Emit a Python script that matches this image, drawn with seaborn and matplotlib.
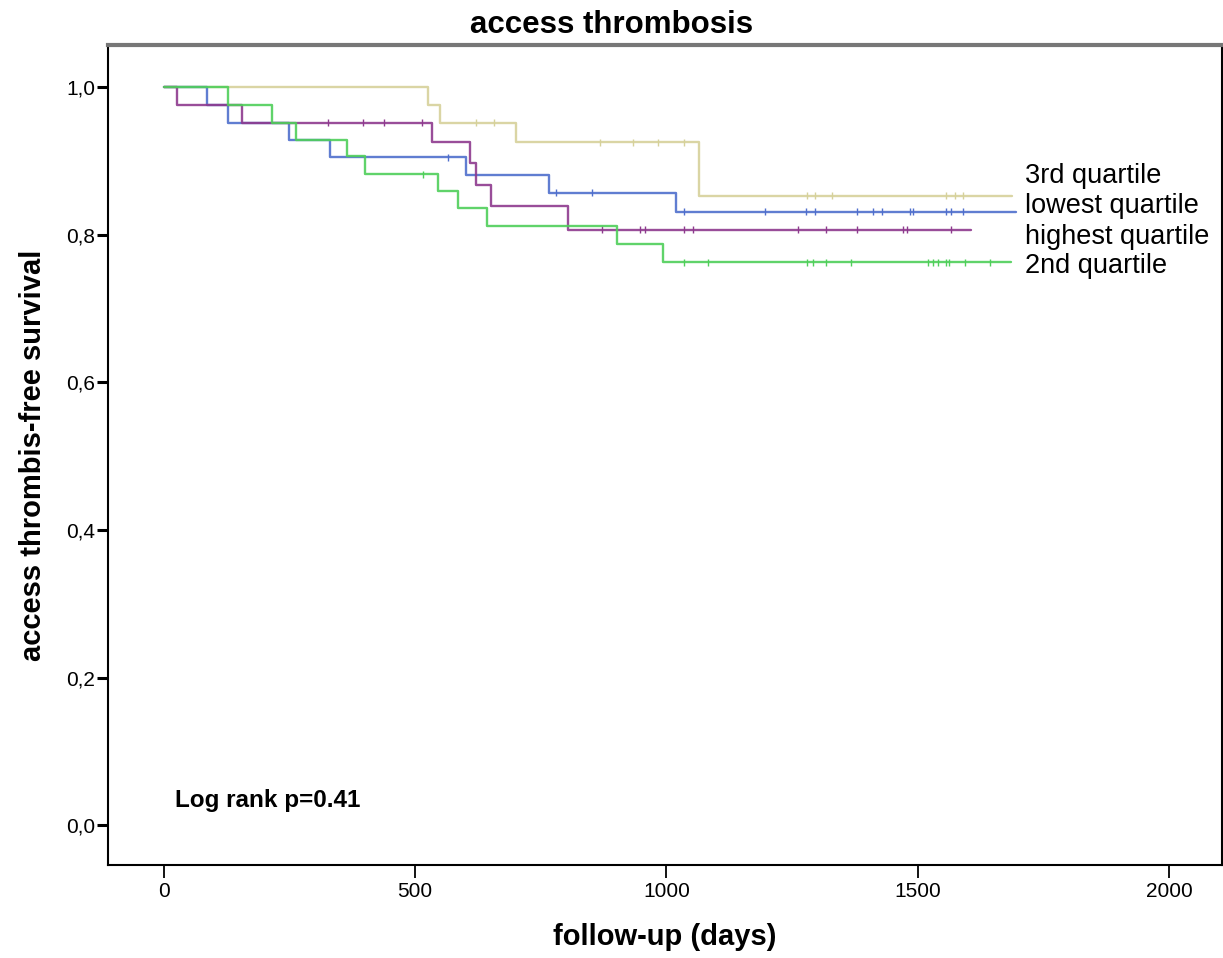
import numpy as np
import pandas as pd
import matplotlib
matplotlib.use("Agg")
import matplotlib.pyplot as plt
import seaborn as sns

# Kaplan-Meier steps (days, survival after each step)
groups = ["3rd quartile", "lowest quartile", "highest quartile", "2nd quartile"]

t_3rd = [0, 525, 549, 700, 1065, 1688]
s_3rd = [1.0, 0.976, 0.952, 0.925, 0.853, 0.853]
c_3rd = [621, 657, 868, 934, 983, 1035, 1279, 1296, 1329, 1557, 1574, 1591]

t_low = [0, 86, 127, 249, 330, 601, 766, 1019, 1695]
s_low = [1.0, 0.976, 0.952, 0.929, 0.905, 0.881, 0.857, 0.831, 0.831]
c_low = [565, 780, 851, 1035, 1197, 1278, 1296, 1380, 1412, 1428, 1485, 1491, 1557, 1567, 1591]

t_high = [0, 27, 156, 534, 609, 621, 652, 805, 1607]
s_high = [1.0, 0.976, 0.952, 0.926, 0.897, 0.868, 0.839, 0.807, 0.807]
c_high = [326, 397, 438, 513, 872, 947, 957, 1035, 1053, 1261, 1317, 1380, 1471, 1478, 1567]

t_2nd = [0, 127, 216, 263, 365, 401, 545, 586, 643, 901, 994, 1685]
s_2nd = [1.0, 0.976, 0.952, 0.929, 0.906, 0.882, 0.859, 0.836, 0.812, 0.787, 0.763, 0.763]
c_2nd = [516, 1035, 1083, 1280, 1292, 1317, 1368, 1521, 1531, 1541, 1557, 1563, 1595, 1644]

label_y = [0.880, 0.839, 0.797, 0.757]
p_text = "Log rank p=0.41"

colors = {
    "3rd quartile": "#d6d19a",
    "lowest quartile": "#4f6fcc",
    "highest quartile": "#8e3a8e",
    "2nd quartile": "#4fcf5a",
}

steps = pd.concat([
    pd.DataFrame({"days": t, "surv": s, "group": g})
    for g, t, s in zip(groups, [t_3rd, t_low, t_high, t_2nd], [s_3rd, s_low, s_high, s_2nd])
])


def surv_at(t, s, times):
    idx = np.searchsorted(np.asarray(t), np.asarray(times), side="right") - 1
    return np.asarray(s)[idx]


cens = pd.concat([
    pd.DataFrame({"days": c, "surv": surv_at(t, s, c), "group": g})
    for g, t, s, c in zip(groups, [t_3rd, t_low, t_high, t_2nd],
                          [s_3rd, s_low, s_high, s_2nd],
                          [c_3rd, c_low, c_high, c_2nd])
])

sns.set_style("white")
plt.rcParams["font.family"] = ["Liberation Sans", "DejaVu Sans"]
plt.rcParams["text.color"] = "black"
plt.rcParams["axes.labelcolor"] = "black"
plt.rcParams["xtick.color"] = "black"
plt.rcParams["ytick.color"] = "black"

fig = plt.figure(figsize=(12.23, 9.58), dpi=100)
ax = fig.add_axes([0.0883, 0.097, 0.9107, 0.856])

for g in groups:
    sns.lineplot(
        data=steps[steps["group"] == g], x="days", y="surv",
        color=colors[g], drawstyle="steps-post", estimator=None, sort=False,
        linewidth=1.7, alpha=0.9, ax=ax, legend=False,
    )
sns.scatterplot(
    data=cens, x="days", y="surv", hue="group", palette=colors,
    marker="|", s=25, linewidth=1.0, ax=ax, legend=False,
)

for g, y in zip(groups, label_y):
    ax.text(1713, y, g, fontsize=19.5, va="center", ha="left")

ax.text(22, 0.034, p_text, fontsize=17.5, fontweight="bold", va="center", ha="left")

ax.set_xlim(-111, 2105)
ax.set_ylim(-0.054, 1.057)
ax.set_xticks([0, 500, 1000, 1500, 2000])
ax.set_yticks([0.0, 0.2, 0.4, 0.6, 0.8, 1.0])
ax.set_yticklabels(["0,0", "0,2", "0,4", "0,6", "0,8", "1,0"])
ax.tick_params(axis="x", direction="out", length=9, width=1.3, labelsize=15, pad=3)
ax.tick_params(axis="y", direction="out", length=8, width=2.2, labelsize=15, pad=1)
ax.xaxis.set_ticks_position("bottom")
ax.yaxis.set_ticks_position("left")

for side, sp in ax.spines.items():
    sp.set_visible(True)
    sp.set_color("black")
    sp.set_linewidth(1.5)
ax.spines["top"].set_color("#777777")
ax.spines["top"].set_linewidth(3)

ax.set_xlabel("follow-up (days)", fontsize=21, fontweight="bold", labelpad=16)
ax.set_ylabel("access thrombis-free survival", fontsize=21, fontweight="bold", labelpad=14)
fig.text(0.5, 0.974, "access thrombosis", fontsize=22.5, fontweight="bold", ha="center", va="center")

fig.savefig("out.png", dpi=100)
